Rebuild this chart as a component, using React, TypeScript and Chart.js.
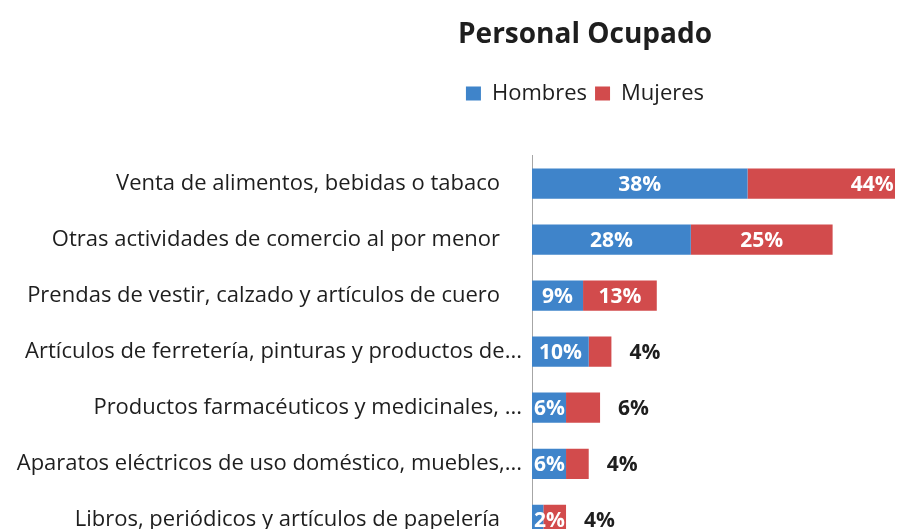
import React, { useEffect, useRef } from "react";
import { Chart, registerables } from "chart.js";

Chart.register(...registerables);

const chartTitle = "Personal Ocupado";
const seriesNames = ["Hombres", "Mujeres"];
const categories = [
  "Venta de alimentos, bebidas o tabaco",
  "Otras actividades de comercio al por menor",
  "Prendas de vestir, calzado y artículos de cuero",
  "Artículos de ferretería, pinturas y productos de...",
  "Productos farmacéuticos y medicinales, ...",
  "Aparatos eléctricos de uso doméstico, muebles,...",
  "Libros, periódicos y artículos de papelería",
];
const hombres = [38, 28, 9, 10, 6, 6, 2];
const mujeres = [44, 25, 13, 4, 6, 4, 4];
const mujeresLabelOutside = [false, false, false, true, true, true, true];
const xMin = 0;
const xMax = 64;

const FONT = "'Open Sans', Lato, sans-serif";
const BLUE = "#3F84CA";
const RED = "#D24B4C";
const TEXT = "#1e1e1e";
const HEADER_LEFT = 275;

const barLabels = {
  id: "barLabels",
  afterDatasetsDraw(chart: any) {
    const ctx = chart.ctx;
    ctx.save();
    ctx.font = `bold 21px ${FONT}`;
    ctx.textBaseline = "middle";
    chart.data.datasets.forEach((ds: any, di: number) => {
      const meta = chart.getDatasetMeta(di);
      meta.data.forEach((bar: any, i: number) => {
        const v = ds.data[i];
        const { x, y, base } = bar.getProps(["x", "y", "base"], true);
        const text = `${v}%`;
        const tw = ctx.measureText(text).width;
        if (di === 1 && mujeresLabelOutside[i]) {
          ctx.fillStyle = TEXT;
          ctx.textAlign = "left";
          ctx.fillText(text, x + 18, y + 1);
        } else {
          ctx.fillStyle = "#ffffff";
          ctx.textAlign = "center";
          const cx = Math.max((base + x) / 2, base + tw / 2 + 2);
          ctx.fillText(text, cx, y + 1);
        }
      });
    });
    ctx.restore();
  },
};

const headerLayout = {
  id: "headerLayout",
  beforeInit(chart: any) {
    const legend = chart.legend;
    if (!legend) return;
    const fit = legend.fit;
    legend.fit = function () {
      fit.call(this);
      this.height += 41;
    };
  },
  afterLayout(chart: any) {
    // centre the title and legend over the right-hand part of the chart, as in the source
    if (chart.titleBlock) chart.titleBlock.left = HEADER_LEFT;
    if (chart.legend) chart.legend.left = HEADER_LEFT;
  },
};

const CANVAS_H = 563;

export default function App() {
  const ref = useRef<HTMLCanvasElement | null>(null);
  useEffect(() => {
    if (!ref.current) return;
    const chart = new Chart(ref.current, {
      type: "bar",
      data: {
        labels: categories,
        datasets: [
          { label: seriesNames[0], data: hombres, backgroundColor: BLUE, clip: 0 } as any,
          { label: seriesNames[1], data: mujeres, backgroundColor: RED, clip: 0 } as any,
        ],
      },
      options: {
        indexAxis: "y",
        responsive: false,
        animation: false,
        layout: { padding: { left: 0, right: 2, top: 0, bottom: 14 } },
        datasets: { bar: { categoryPercentage: 1, barPercentage: 0.54 } },
        scales: {
          x: { stacked: true, min: xMin, max: xMax, display: false },
          y: {
            stacked: true,
            grid: { display: false },
            border: { display: true, color: "#a6a6a6", width: 1 },
            ticks: {
              font: { family: FONT, size: 22 },
              color: TEXT,
              padding: 2,
              // truncated labels let their ellipsis hang past the common right edge
              callback: (_v: any, i: number) =>
                categories[i].endsWith("...") ? categories[i] : categories[i] + "\u2002\u2002",
            },
            afterFit(scale: any) {
              scale.width = 532;
            },
          },
        },
        plugins: {
          title: {
            display: true,
            text: chartTitle,
            color: TEXT,
            font: { family: FONT, size: 28, weight: "bold" },
            padding: { top: 18, bottom: 23 },
          },
          legend: {
            display: true,
            position: "top",
            labels: {
              boxWidth: 15,
              boxHeight: 14,
              color: TEXT,
              font: { family: FONT, size: 22 },
              padding: 8,
            },
          },
          tooltip: { enabled: false },
        },
      },
      plugins: [barLabels, headerLayout],
    });
    return () => chart.destroy();
  }, []);
  return (
    <div style={{ position: "fixed", left: 0, top: 0, width: 897, height: CANVAS_H, background: "#fff" }}>
      <canvas ref={ref} width={897} height={CANVAS_H} style={{ display: "block" }} />
    </div>
  );
}
